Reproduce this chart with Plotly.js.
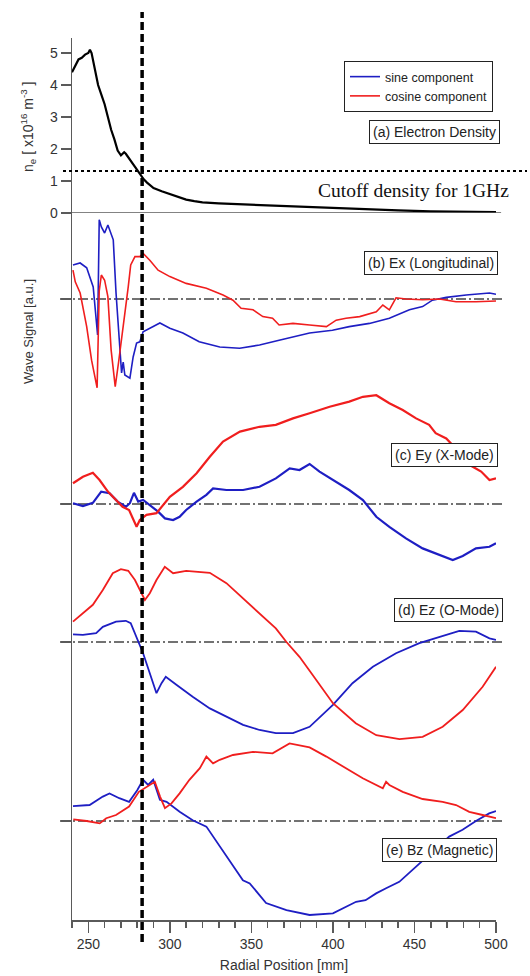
<!DOCTYPE html>
<html><head><meta charset="utf-8">
<script src="https://cdn.plot.ly/plotly-3.0.1.min.js"></script>
<style>html,body{margin:0;padding:0;background:#fff}</style>
</head><body><div id="chart" style="width:530px;height:976px"></div>
<script>
// ---- Panel (a): electron density ----
const densX = [240,242,244,246,248,250,251,252,254,256,258,260,262,264,266,268,270,272,273,275,278,280,282,284,286,288,290,295,300,305,310,315,320,330,340,350,360,370,380,390,400,420,440,460,480,500];
const densY = [4.4,4.6,4.8,4.85,4.95,5.0,5.1,5.0,4.5,4.0,3.7,3.4,3.0,2.6,2.3,1.95,1.8,1.9,1.85,1.7,1.5,1.35,1.2,1.05,0.95,0.85,0.78,0.68,0.6,0.52,0.42,0.37,0.33,0.3,0.28,0.26,0.22,0.2,0.19,0.18,0.15,0.12,0.08,0.05,0.04,0.03];
const cutoffDensity = 1.31;
const cutoffPosition = 283;

// ---- Panel (b): Ex ----
const exX_s = [240.6,245,249,253,255.7,256.7,258,260,262,264,265.3,267,269.4,270.4,271.4,272.4,275.5,277.5,279.6,281.6,283.6,287.7,293.9,300,308,318,330.6,342.8,355,367,379.5,385.7,399.7,410,422.4,434.6,446.9,455,461,469.5,481.7,496,500];
const exS   = [0.85,0.9,0.78,0.3,-0.9,1.98,1.8,1.65,1.85,1.65,1.48,0.15,-1.28,-1.85,-1.58,-1.9,-1.98,-1.45,-1.1,-1.07,-0.82,-0.73,-0.6,-0.73,-0.85,-1.07,-1.2,-1.23,-1.15,-1.03,-0.9,-0.85,-0.78,-0.69,-0.61,-0.48,-0.27,-0.19,-0.03,0.04,0.1,0.15,0.12];
const exX_c = [240.6,242,245,249,252,255.4,256.7,258,260,262,264,266.5,268.5,270.4,272.4,274.5,276,278.6,281.6,283.6,287.7,292.8,300,310,322.4,332.6,338.7,343.7,351,357,363,367,375.5,385.7,396,402,408,416.4,426.6,430.6,434.6,438.7,444.8,455,465.3,475.5,487.7,500];
const exC   = [0.72,0.43,0.15,-0.69,-1.53,-2.22,0.2,0.6,0.47,0.06,-1.28,-2.19,-1.6,-0.94,-0.36,0.31,0.85,1.06,1.06,1.14,0.97,0.72,0.56,0.39,0.27,0.1,-0.03,-0.23,-0.27,-0.44,-0.48,-0.65,-0.61,-0.65,-0.69,-0.53,-0.48,-0.44,-0.32,-0.15,-0.27,0.03,0,-0.02,0,-0.07,-0.07,-0.05];

// ---- Panel (c): Ey ----
const eyX_s = [240.6,246.7,252.8,257.9,263,268,273,275.5,278,280.6,283.6,287.7,292.8,297,302,306,310,316.4,322.4,326.5,334.7,344.9,355,365,373.5,379.5,385.7,391.8,400,410,418.4,426.6,434.6,444.8,455,465.3,473.5,479.6,487.7,496,500];
const eyS   = [0.02,-0.05,0.03,0.31,0.27,0.06,-0.07,0.02,0.28,0.06,0.1,-0.03,-0.19,-0.36,-0.4,-0.32,-0.15,0.06,0.23,0.39,0.35,0.35,0.43,0.64,0.89,0.85,1.0,0.81,0.6,0.35,0.1,-0.32,-0.57,-0.86,-1.11,-1.28,-1.4,-1.3,-1.11,-1.07,-0.98];
const eyX_c = [240.6,246.7,252.8,256.9,262,267,271,275,279.6,281.6,285.7,291.8,294.9,300,308,316.4,324.5,332.6,343,355,365,375.5,385.7,398,410,418.4,426.6,434.6,442.8,451,459,463,469.5,475,480,485,490.9,496,500];
const eyC   = [0.52,0.68,0.78,0.6,0.31,0.1,-0.07,-0.15,-0.57,-0.4,-0.27,-0.23,-0.07,0.18,0.43,0.77,1.18,1.56,1.81,1.93,1.98,2.14,2.27,2.43,2.56,2.68,2.72,2.52,2.35,2.14,1.98,1.77,1.64,1.4,1.15,0.95,0.81,0.6,0.64];

// ---- Panel (d): Ez ----
const ezX_s = [240.6,246.7,254.8,258.9,267,273,276,279.6,283.6,287.7,291.8,294.9,297.5,304,314,324.5,334.7,344.9,355,365,375.5,385.7,400,412,424.5,438.7,453,465.3,477.5,487.7,496,500];
const ezS   = [0.19,0.18,0.22,0.38,0.51,0.53,0.47,0.13,-0.28,-0.78,-1.28,-1.03,-0.87,-1.07,-1.37,-1.66,-1.87,-2.07,-2.2,-2.28,-2.28,-2.12,-1.57,-1.03,-0.62,-0.28,-0.03,0.13,0.28,0.26,0.09,0.05];
const ezX_c = [240.6,246.7,252.8,258.9,265,270,274.5,278.6,281.6,284.7,287.7,291.8,296.9,302,310,318,324.5,334.7,344.9,355,365,371.5,379.5,385.7,400,414,426.6,440.8,455,467.3,479.6,491.8,500];
const ezC   = [0.51,0.72,0.93,1.3,1.72,1.82,1.78,1.55,1.3,1.05,1.22,1.55,1.88,1.72,1.78,1.76,1.73,1.47,1.09,0.72,0.34,0,-0.37,-0.72,-1.53,-2.03,-2.33,-2.43,-2.37,-2.12,-1.7,-1.12,-0.62];

// ---- Panel (e): Bz ----
const bzX_s = [240.6,250.8,258.9,263,269,275,280,283.6,286.7,289.8,293.9,298,306,314,322.4,330.6,338.7,344.8,349,359,371.5,385.7,400,414.2,420,426.5,432.6,440.7,451,461,471.3,479.5,487.7,495.8,500];
const bzS   = [0.37,0.4,0.61,0.69,0.57,0.48,0.77,1.03,0.9,1.03,0.53,0.48,0.23,0.02,-0.14,-0.64,-1.14,-1.48,-1.56,-2.05,-2.23,-2.35,-2.31,-2.02,-1.98,-1.81,-1.68,-1.52,-1.14,-0.78,-0.39,-0.22,0,0.19,0.25];
const bzX_c = [240.8,249,257,261,267,275,281,285.7,290.8,294,297,301,306,312,318.4,322.4,326.5,330.6,338.7,351,363,373.4,385.7,396,408,418.3,430.6,432.6,434.6,442.8,455,467.3,475.5,483.6,491.8,500];
const bzC   = [0.04,0,-0.06,0.07,0.15,0.36,0.73,0.86,0.98,0.61,0.32,0.44,0.69,1.03,1.32,1.61,1.44,1.53,1.65,1.73,1.69,1.94,1.84,1.61,1.32,1.07,0.82,0.98,0.9,0.73,0.55,0.48,0.4,0.23,0.15,0.07];

// zero level (baseline) of each wave panel on the lower a.u. axis
const panelNames = ['(b) Ex (Longitudinal)','(c) Ey (X-Mode)','(d) Ez (O-Mode)','(e) Bz (Magnetic)'];
const zeroLevels = [-2.15, -7.275, -10.725, -15.2];
const xTickVals = [250,300,350,400,450,500];

const BLUE = 'rgb(30,30,195)', RED = 'rgb(240,30,30)', AX = '#5a5a5a';
const lineWidths = [1.6, 2.2, 1.8, 1.8];
const series = [
  [exX_s, exS, exX_c, exC],
  [eyX_s, eyS, eyX_c, eyC],
  [ezX_s, ezS, ezX_c, ezC],
  [bzX_s, bzS, bzX_c, bzC]
];

const traces = [{
  x: densX, y: densY, xaxis: 'x', yaxis: 'y', mode: 'lines',
  line: {color: '#000', width: 2.2}, showlegend: false, hoverinfo: 'skip'
}];
series.forEach((s, i) => {
  const off = zeroLevels[i];
  traces.push({x: s[0], y: s[1].map(v => v + off), xaxis: 'x', yaxis: 'y2', mode: 'lines',
    line: {color: BLUE, width: lineWidths[i]}, name: 'sine component', legendgroup: 's', showlegend: i === 0});
  traces.push({x: s[2], y: s[3].map(v => v + off), xaxis: 'x', yaxis: 'y2', mode: 'lines',
    line: {color: RED, width: lineWidths[i]}, name: 'cosine component', legendgroup: 'c', showlegend: i === 0});
});

const px2x = p => (p - 72) / 424;
const px2y = p => (920 - p) / 882;

const shapes = [
  {type: 'line', xref: 'paper', yref: 'y', x0: 0, x1: 1.012, y0: 0, y1: 0, line: {color: AX, width: 1.5}},
  {type: 'line', xref: 'paper', yref: 'y', x0: px2x(63), x1: px2x(527), y0: cutoffDensity, y1: cutoffDensity,
   line: {color: '#000', width: 2, dash: 'dot'}},
  {type: 'line', xref: 'x', yref: 'paper', x0: cutoffPosition, x1: cutoffPosition, y0: px2y(942), y1: px2y(12),
   line: {color: '#000', width: 3.5, dash: '8px,4px'}, layer: 'above'}
];
zeroLevels.forEach(z => shapes.push({type: 'line', xref: 'paper', yref: 'y2', x0: px2x(60), x1: px2x(503), y0: z, y1: z,
  line: {color: '#444', width: 1.5, dash: '10px,3px,2px,3px'}, layer: 'below'}));

const boxFont = {family: 'Liberation Sans, Arial, sans-serif', size: 14, color: '#222'};
const boxCenters = [[431, 263], [444, 455.5], [448, 610], [439.5, 849.5]];
const ann = (o) => Object.assign({xref: 'paper', yref: 'paper', xanchor: 'center', yanchor: 'middle', showarrow: false}, o);
const annotations = [
  ann({x: px2x(434.5), y: px2y(131.5), text: '(a) Electron Density',
   font: boxFont, bordercolor: '#222', borderwidth: 1, borderpad: 3, bgcolor: '#fff'}),
  ann({x: px2x(413.5), y: px2y(190), text: 'Cutoff density for 1GHz',
   font: {family: 'Liberation Serif, Times New Roman, serif', size: 19.5, color: '#111'}}),
  ann({x: px2x(28), y: px2y(127), text: 'n<sub>e</sub> [ x10<sup>16</sup> m<sup>-3</sup> ]',
   textangle: -90, font: {family: 'Liberation Sans, Arial, sans-serif', size: 14, color: '#333'}}),
  ann({x: px2x(28), y: px2y(332), text: 'Wave Signal [a.u.]',
   textangle: -90, font: {family: 'Liberation Sans Narrow, Liberation Sans, Arial, sans-serif', size: 13, color: '#333'}})
];
panelNames.forEach((n, i) => annotations.push(ann({x: px2x(boxCenters[i][0]), y: px2y(boxCenters[i][1]),
  text: n, font: boxFont, bordercolor: '#222', borderwidth: 1, borderpad: 3, bgcolor: '#fff'})));

const layout = {
  width: 530, height: 976,
  margin: {l: 72, r: 34, t: 38, b: 56},
  paper_bgcolor: '#fff', plot_bgcolor: 'rgba(0,0,0,0)',
  font: {family: 'Liberation Sans, Arial, sans-serif', color: '#333'},
  xaxis: {range: [240, 500], anchor: 'y2', showline: true, linecolor: AX, linewidth: 1.5,
    ticks: 'outside', ticklen: 11, tickwidth: 1.5, tickcolor: AX, tickvals: xTickVals,
    showgrid: false, zeroline: false, tickfont: {size: 14, color: '#333'},
    minor: {dtick: 10, tick0: 0, ticks: 'outside', ticklen: 6, tickwidth: 1.5, tickcolor: AX, showgrid: false},
    title: {text: 'Radial Position [mm]', font: {size: 14, color: '#333'}, standoff: 9}},
  yaxis: {domain: [px2y(213), 1], range: [0, 5.469], showline: true, linecolor: AX, linewidth: 1.5,
    ticks: 'outside', ticklen: 10, tickwidth: 1.5, tickcolor: AX, tickvals: [0,1,2,3,4,5],
    showgrid: false, zeroline: false, tickfont: {size: 14, color: '#333'}},
  yaxis2: {domain: [0, px2y(213)], range: [-17.675, 0], showline: true, linecolor: AX, linewidth: 1.5,
    ticks: 'outside', ticklen: 10, tickwidth: 1.5, tickcolor: AX, tickvals: zeroLevels,
    showticklabels: false, showgrid: false, zeroline: false},
  showlegend: true,
  legend: {x: px2x(344), y: px2y(61), xanchor: 'left', yanchor: 'top', bordercolor: '#222', borderwidth: 1,
    bgcolor: '#fff', font: {size: 12.5, color: '#222'}, tracegroupgap: 0, itemwidth: 30},
  shapes: shapes, annotations: annotations
};

Plotly.newPlot('chart', traces, layout, {displayModeBar: false, staticPlot: true});
</script>
</body></html>
